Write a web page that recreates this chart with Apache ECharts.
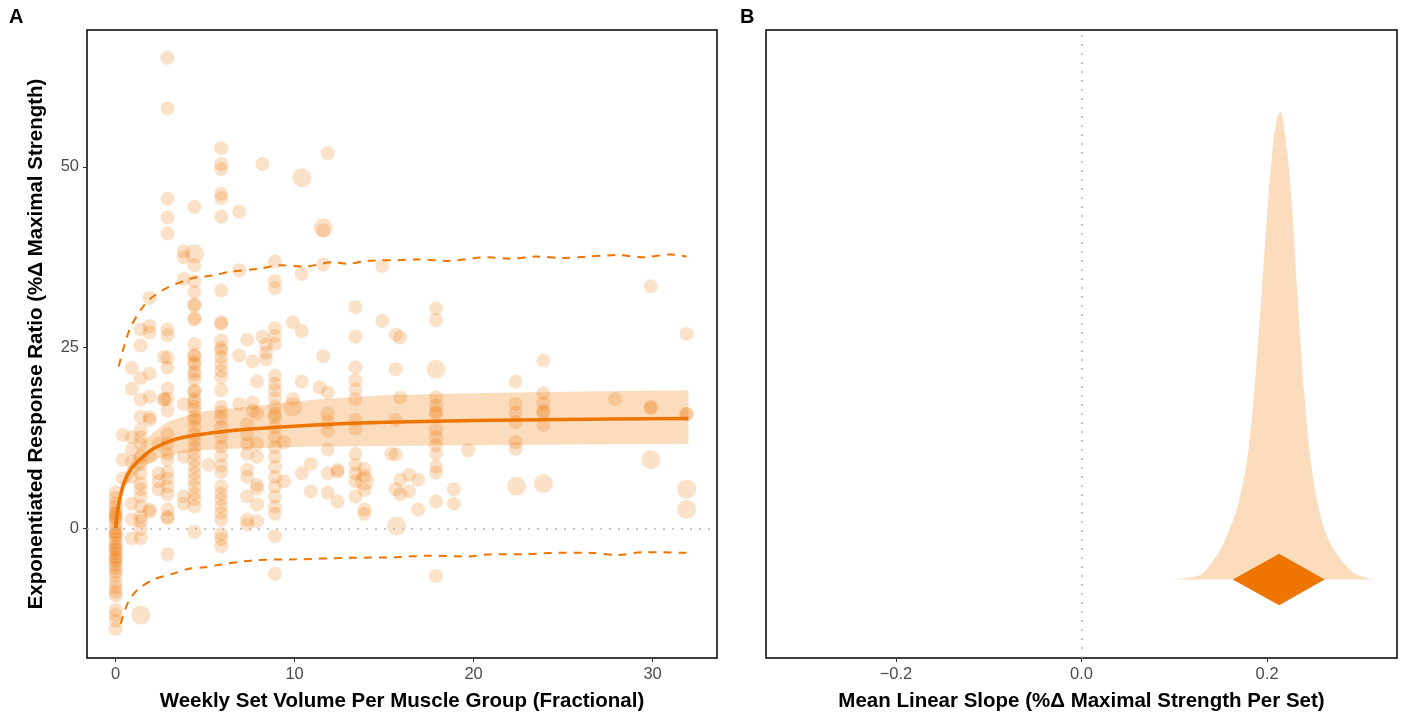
<!DOCTYPE html>
<html><head><meta charset="utf-8">
<script src="https://cdn.jsdelivr.net/npm/echarts@6/dist/echarts.min.js"></script>
<style>html,body{margin:0;padding:0;background:#fff}#c{width:1405px;height:717px}</style>
</head><body><div id="c"></div>
<script>
// ---------- Panel A data ----------
// observed effect sizes, grouped by weekly set volume
const pointColumns = [
  [0,   [5.0,4.2,3.5,3.0,2.4,1.8,1.2,0.6,0.0,-0.5,-1.0,-1.5,-2.0,-2.5,-3.0,-3.5,-4.0,-4.5,-5.0,-5.5,-6.0,-6.5,-7.5,-8.2,-8.8,-9.3,-11.3,-12.0,-12.8,-13.9,2.0,-0.8,-2.8,-4.2,1.5]],
  [0.4, [6.9,9.5,12.9]],
  [0.9, [22.2,19.3,12.6,10.9,9.2,7.1,3.4,1.2,-1.4]],
  [1.4, [27.5,25.3,20.8,17.8,15.4,13.6,12.6,11.7,9.9,8.9,7.6,6.2,5.4,4.4,3.0,1.6,1.0,-0.1,-1.4]],
  [1.9, [31.9,28.0,27.1,21.4,18.2,15.4,15.0,9.9,2.6,2.3]],
  [2.4, [11.7,7.6,6.5,5.4]],
  [2.7, [23.7,17.8,17.9]],
  [2.9, [65.1,58.1,45.6,43.0,40.8,27.5,26.7,23.6,22.2,19.3,17.9,16.3,13.0,11.7,10.3,9.5,7.8,6.9,5.8,4.7,2.6,1.6,1.4,-3.6]],
  [3.8, [38.3,37.5,34.5,17.2,9.9,4.4,3.4]],
  [4.4, [44.5,36.4,34.2,32.7,31.0,30.8,29.1,28.9,25.5,24.0,23.8,23.0,22.7,21.7,21.3,20.6,19.1,18.9,17.9,17.5,16.8,16.3,15.4,15.0,14.0,13.0,12.2,11.2,10.3,9.4,8.5,7.6,6.7,5.8,4.8,4.0,3.0,-0.5]],
  [5.2, [8.8]],
  [5.9, [52.6,50.4,49.7,46.3,45.7,43.1,32.9,28.5,28.3,26.0,25.0,24.6,23.7,22.7,21.8,20.9,19.1,16.8,16.1,15.2,14.0,12.6,11.3,10.0,8.7,7.8,5.8,4.8,4.0,3.0,2.1,1.2,-0.8,-1.5,-2.5]],
  [6.9, [43.8,35.7,23.9,17.2]],
  [7.35,[26.1,14.4,13.0,11.7,10.3,8.1,7.1,4.4,1.2,0.5]],
  [7.65,[23.1,17.4,16.3]],
  [7.9, [20.3,15.9,11.7,9.9,6.0,5.5,3.3,1.0]],
  [8.2, [50.4,26.5]],
  [8.4, [25.4,24.3,23.4]],
  [8.9, [36.9,34.2,33.2,27.7,26.6,25.5,21.1,20.0,19.1,18.0,16.8,15.8,15.4,14.0,12.6,11.2,9.9,8.5,7.1,5.8,4.4,3.0,2.0,-1.1,-6.3]],
  [9.4, [11.9,6.5]],
  [9.9, [28.5,17.9]],
  [10.4,[35.2,27.3,20.3,7.6]],
  [10.9,[8.9,5.1]],
  [11.4,[19.5]],
  [11.6,[41.2,36.5,23.8]],
  [11.85,[51.9,18.8,15.8,14.7,13.5,10.9,7.6,4.9]],
  [12.4,[8.1,7.8,3.7]],
  [13.4,[30.6,26.5,22.3,20.5,19.2,17.9,15.0,13.8,10.3,8.8,7.6,6.5,4.4]],
  [13.9,[8.2,7.2,5.3,2.6,2.0]],
  [14.9,[36.3,28.7]],
  [15.4,[10.3]],
  [15.65,[26.8,22.0,15.0,10.2,5.4]],
  [15.9,[26.4,18.1,6.7,4.7]],
  [16.4,[7.4,5.1]],
  [16.9,[6.7,2.6]],
  [17.9,[30.4,28.8,18.1,17.0,16.1,15.8,13.7,12.6,11.5,10.3,8.5,7.7,3.7,-6.6]],
  [18.9,[5.4,3.4]],
  [19.7,[10.8]],
  [22.35,[20.3,17.2,16.0,14.7,11.9,11.0]],
  [23.9,[23.2,18.7,17.3,16.2,16.0,14.3]],
  [27.9,[17.9]],
  [29.9,[33.5,16.8,16.6]],
  [31.9,[26.9,15.8,15.8]]
];
// studies with larger weight (drawn bigger)
const bigPoints = [[1.4,-12.0],[10.4,48.5],[11.6,41.6],[17.9,22.0],[15.7,0.3],[22.4,5.8],[23.9,6.2],[29.9,9.5],[31.9,5.4],[31.9,2.6],[4.4,38.0],[9.9,16.8],[13.9,6.5]];

// fitted curve
const fitX = [0,0.17,0.45,0.83,1.4,2.1,3.2,4.5,6.4,9.2,12,15.7,20,25,32];
const fitY = [0,3.3,6.2,8.1,9.6,11.0,12.2,12.9,13.5,14.0,14.4,14.7,14.9,15.05,15.2];
// credible ribbon
const ribbonX     = [0.3,0.6,1,1.5,2,2.5,3,4,5,6.5,8,11,15,20,25,32];
const ribbonUpper = [6.0,8.0,10.0,11.8,13.0,14.0,14.8,15.6,16.2,16.6,17.0,17.8,18.4,18.7,18.9,19.1];
const ribbonLower = [4.0,6.0,7.2,8.4,9.2,9.7,10.1,10.5,10.8,11.0,11.1,11.3,11.4,11.5,11.6,11.7];
// prediction interval (dashed)
const predUpperX = [0.17,0.45,0.83,1.4,1.9,2.9,4.3,5.5,6.4,8,9.2,10.5,12.1,13,14,15.7,17,18.5,20.8,22,23.5,25,26.4,28,29.5,31,31.9];
const predUpperY = [22.4,25.0,27.8,30.2,31.7,33.3,34.6,35.0,35.5,35.9,36.4,36.2,36.8,36.6,37.0,37.1,37.2,37.0,37.5,37.3,37.6,37.4,37.6,37.8,37.5,37.9,37.6];
const predLowerX = [0.28,0.72,1.28,2.2,3.2,4.1,5.0,5.9,7.9,10.1,12.9,15.7,17.5,19.7,21,22.7,24.5,26.4,28,29.5,31.9];
const predLowerY = [-13.2,-10.1,-8.4,-7.0,-6.3,-5.6,-5.4,-5.0,-4.4,-4.3,-4.1,-4.0,-3.8,-3.9,-3.6,-3.6,-3.4,-3.4,-3.7,-3.3,-3.4];

// ---------- Panel B data ----------
const slopeX       = [0.100,0.120,0.130,0.140,0.150,0.160,0.170,0.180,0.190,0.200,0.205,0.210,0.214,0.220,0.226,0.232,0.240,0.248,0.256,0.265,0.275,0.285,0.295,0.310,0.316];
const slopeDensity = [0,0.005,0.012,0.035,0.065,0.11,0.17,0.28,0.50,0.78,0.90,0.98,1.00,0.94,0.82,0.63,0.40,0.24,0.15,0.09,0.055,0.03,0.012,0.002,0];
const slopeInterval = [0.163,0.213,0.262]; // lower, mean, upper

const xTicksA = [0,10,20,30];
const yTicksA = [0,25,50];
const xTicksB = [-0.2,0,0.2];

// ---------- build ----------
const ORANGE = '#ee7600';
const PT = 'rgba(238,118,0,0.27)';
const FILL = 'rgba(238,118,0,0.26)';
const FONT = '"Liberation Sans", Arial, Helvetica, sans-serif';

const pts = [];
pointColumns.forEach(([x, ys]) => ys.forEach(y => pts.push([x, y])));
const zip = (a, b) => a.map((v, i) => [v, b[i]]);

const tickLbl = {color:'#4d4d4d', fontSize:16.5, fontFamily:FONT, margin:8};
const tick = {show:true, inside:false, length:4, lineStyle:{color:'#333', width:1}};
const nameTS = {color:'#000', fontSize:20.5, fontWeight:'bold', fontFamily:FONT};
const noLine = {show:false, onZero:false};

const chart = echarts.init(document.getElementById('c'), null, {renderer:'canvas'});
chart.setOption({
  animation:false,
  backgroundColor:'#fff',
  graphic:[
    {type:'text', left:9, top:7, style:{text:'A', font:'bold 20px '+FONT, fill:'#000'}},
    {type:'text', left:740, top:7, style:{text:'B', font:'bold 20px '+FONT, fill:'#000'}}
  ],
  grid:[
    {left:87, top:30, width:630, height:630, show:true, borderColor:'#000', borderWidth:1.5, backgroundColor:'transparent'},
    {left:766, top:30, width:631, height:630, show:true, borderColor:'#000', borderWidth:1.5, backgroundColor:'transparent'}
  ],
  xAxis:[
    {type:'value', gridIndex:0, min:-1.6, max:33.6, splitLine:{show:false}, axisLine:noLine,
     axisTick:Object.assign({customValues:xTicksA}, tick),
     axisLabel:Object.assign({customValues:xTicksA}, tickLbl),
     name:'Weekly Set Volume Per Muscle Group (Fractional)', nameLocation:'middle', nameGap:33, nameTextStyle:nameTS},
    {type:'value', gridIndex:1, min:-0.34, max:0.34, splitLine:{show:false}, axisLine:noLine,
     axisTick:Object.assign({customValues:xTicksB}, tick),
     axisLabel:Object.assign({customValues:xTicksB, formatter:v => (v < 0 ? '\u2212' : '') + Math.abs(v).toFixed(1)}, tickLbl),
     name:'Mean Linear Slope (%\u0394 Maximal Strength Per Set)', nameLocation:'middle', nameGap:33, nameTextStyle:nameTS}
  ],
  yAxis:[
    {type:'value', gridIndex:0, min:-17.95, max:68.95, splitLine:{show:false}, axisLine:noLine,
     axisTick:Object.assign({customValues:yTicksA}, tick),
     axisLabel:Object.assign({customValues:yTicksA}, tickLbl),
     name:'Exponentiated Response Ratio (%\u0394 Maximal Strength)', nameLocation:'middle', nameGap:40, nameRotate:90, nameTextStyle:nameTS},
    {type:'value', gridIndex:1, min:-0.168, max:1.175, show:true, splitLine:{show:false}, axisLine:noLine, axisTick:{show:false}, axisLabel:{show:false}}
  ],
  series:[
    {type:'line', xAxisIndex:0, yAxisIndex:0, data:[], silent:true, symbol:'none',
     markLine:{silent:true, symbol:'none', label:{show:false}, lineStyle:{color:'#b5b5b5', type:[2,7], width:1.5}, data:[{yAxis:0}]}},
    {type:'scatter', xAxisIndex:0, yAxisIndex:0, data:pts, symbolSize:14, itemStyle:{color:PT}, silent:true},
    {type:'scatter', xAxisIndex:0, yAxisIndex:0, data:bigPoints, symbolSize:19, itemStyle:{color:PT}, silent:true},
    {type:'custom', xAxisIndex:0, yAxisIndex:0, data:[0], silent:true,
     renderItem:(p, api) => {
       const up = ribbonX.map((x,i) => api.coord([x, ribbonUpper[i]]));
       const lo = ribbonX.map((x,i) => api.coord([x, ribbonLower[i]])).reverse();
       return {type:'polygon', shape:{points:up.concat(lo)}, style:{fill:FILL, stroke:null}};
     }},
    {type:'line', xAxisIndex:0, yAxisIndex:0, data:zip(fitX, fitY), symbol:'none', smooth:0.35, lineStyle:{color:ORANGE, width:3.5}, silent:true},
    {type:'line', xAxisIndex:0, yAxisIndex:0, data:zip(predUpperX, predUpperY), symbol:'none', smooth:0.3, lineStyle:{color:ORANGE, width:2, type:[8,7]}, silent:true},
    {type:'line', xAxisIndex:0, yAxisIndex:0, data:zip(predLowerX, predLowerY), symbol:'none', smooth:0.3, lineStyle:{color:ORANGE, width:2, type:[8,7]}, silent:true},
    // panel B
    {type:'line', xAxisIndex:1, yAxisIndex:1, data:[], symbol:'none', silent:true,
     markLine:{silent:true, symbol:'none', label:{show:false}, lineStyle:{color:'#b5b5b5', type:[2,7], width:1.5}, data:[{xAxis:0}]}},
    {type:'line', xAxisIndex:1, yAxisIndex:1, data:zip(slopeX, slopeDensity), symbol:'none', smooth:0.4,
     lineStyle:{width:0}, areaStyle:{color:FILL, opacity:1}, silent:true},
    {type:'custom', xAxisIndex:1, yAxisIndex:1, data:[0], silent:true,
     renderItem:(p, api) => {
       const [lo, mid, hi] = slopeInterval;
       const h = 0.055;
       const pts2 = [[lo,0],[mid,h],[hi,0],[mid,-h]].map(v => api.coord(v));
       return {type:'polygon', shape:{points:pts2}, style:{fill:ORANGE, stroke:null}};
     }}
  ]
});
</script></body></html>
